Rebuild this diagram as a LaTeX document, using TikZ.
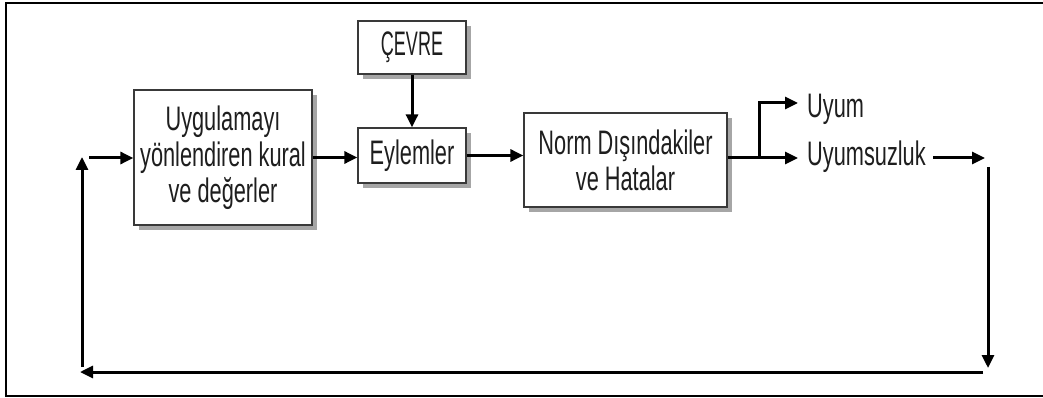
\documentclass[tikz,border=0pt]{standalone}
\usepackage{fontspec}
\setmainfont[FakeStretch=0.64]{Liberation Sans}
\newfontfamily\capsfont[FakeStretch=0.53]{Liberation Sans}
\usetikzlibrary{arrows.meta,shadows}
\definecolor{ink}{HTML}{1E1E1E}
\begin{document}
\begin{tikzpicture}[x=1pt,y=-1pt,
  every node/.style={font=\fontsize{34}{36}\selectfont, text=ink},
  blockbox/.style={draw=gray!45!black, line width=1.3pt, fill=white, align=center,
    inner sep=0pt, drop shadow={shadow xshift=5pt, shadow yshift=-5pt, fill=gray!70, opacity=1}},
  flow/.style={draw=black, line width=3pt},
  arr/.style={flow, -{Triangle[length=13pt,width=12pt]}},
  lbl/.style={anchor=base west, inner sep=0pt}]
  \useasboundingbox (0,0) rectangle (1043,398);
  % outer frame (open on the right edge)
  \draw[line width=2pt] (1050,3) -- (6,3) -- (6,396) -- (1050,396);

  % blocks
  \node[blockbox, minimum width=178pt, minimum height=135pt] (rules) at (223,157.5)
    {Uygulamayı\\yönlendiren kural\\ve değerler};
  \node[blockbox, minimum width=108pt, minimum height=53pt] (env) at (412,47.5)
    {\capsfont ÇEVRE};
  \node[blockbox, minimum width=108pt, minimum height=55pt] (acts) at (412,155.5)
    {Eylemler};
  \node[blockbox, minimum width=203pt, minimum height=94pt] (norm) at (625.5,160)
    {Norm Dışındakiler\\ve Hatalar};

  % outcome labels
  \node[lbl] (uyum) at (807,118) {Uyum};
  \node[lbl] (uyumsuz) at (807,166) {Uyumsuzluk};

  % routing points
  \coordinate (split) at (759,158);
  \coordinate (uyumtip) at (798,103);
  \coordinate (uyumsuztip) at (798,158);
  \coordinate (fbstart) at (933,158);
  \coordinate (fbend) at (985,158);
  \coordinate (downtop) at (988,167);
  \coordinate (downend) at (988,368);
  \coordinate (backstart) at (983,372);
  \coordinate (backend) at (80,372);
  \coordinate (upbottom) at (82,367);
  \coordinate (uptop) at (82,157);
  \coordinate (instart) at (89,158);

  % connectors
  \draw[arr] (env.south) -- (acts.north);
  \draw[arr] (rules.east) -- (rules.east -| acts.west);
  \draw[arr] (acts.east) -- (acts.east -| norm.west);
  \draw[flow] (norm.east |- split) -- (split);
  \draw[arr] (split) |- (uyumtip);
  \draw[arr] (split) -- (uyumsuztip);
  \draw[arr] (fbstart) -- (fbend);
  \draw[arr] (downtop) -- (downend);
  \draw[arr] (backstart) -- (backend);
  \draw[arr] (upbottom) -- (uptop);
  \draw[arr] (instart) -- (instart -| rules.west);
\end{tikzpicture}
\end{document}
